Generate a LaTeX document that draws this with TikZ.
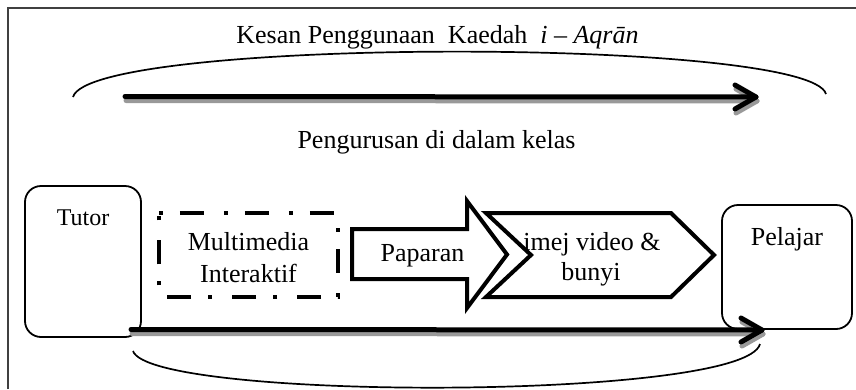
\documentclass[tikz,border=0pt]{standalone}
\usepackage{fontspec}
\setmainfont{Liberation Serif}
\newcommand\myshadowarrow[2]{%
  \draw[shadowline] ([shift={(1,4)}]#1) -- ([shift={(1,4)}]#2);
  \draw[shadowline] ([shift={(-20,-8)}]#2) -- ([shift={(1,4)}]#2) -- ([shift={(-20,16)}]#2);
  \draw[arrowline] (#1) -- (#2);
  \draw[arrowline] ([shift={(-21,-12)}]#2) -- (#2) -- ([shift={(-21,12)}]#2);
}
\begin{document}
\begin{tikzpicture}[x=1pt,y=-1pt,
  lbl/.style={font=\fontsize{26}{30}\selectfont, inner sep=0pt, anchor=base},
  rbox/.style={draw, line width=1.8pt, rounded corners=16pt, inner sep=0pt},
  ddbox/.style={line width=3.5pt, dash pattern=on 4pt off 17pt on 24pt off 20pt},
  fat/.style={draw, line width=4pt, fill=white, line join=miter, miter limit=10},
  arcline/.style={line width=1.7pt},
  arrowline/.style={line width=5pt, line cap=round, line join=round, black},
  shadowline/.style={line width=5pt, line cap=round, line join=round, black!40},
]
\useasboundingbox (0,0) rectangle (856,389);
\fill[white] (0,0) rectangle (856,389);
% frame
\draw[line width=1.5pt, black!75] (8,389) -- (8,8) -- (856,8);

% titles
\node[lbl] (title) at (437.5,43) {Kesan Penggunaan\ \ Kaedah\ \ \textit{i} – \textit{Aqrān}};
\node[lbl] (manage) at (436.5,148) {Pengurusan di dalam kelas};

% top arc and arrow
\coordinate (arcTL) at (73,97);
\coordinate (arcTR) at (826,94);
\draw[arcline] (arcTL) .. controls (90,37) and (810,37) .. (arcTR);
\coordinate (ta) at (125,96.5);
\coordinate (tb) at (756,97);
\myshadowarrow{ta}{tb}

% boxes
\node[rbox, minimum width=116pt, minimum height=151pt] (tutor) at (83,261.5) {};
\node[lbl, font=\fontsize{24}{28}\selectfont] (tutortext) at (83,225) {Tutor};
\node[rbox, minimum width=130pt, minimum height=124pt] (pelajar) at (787,267) {};
\node[lbl] (pelajartext) at (787,245) {Pelajar};

\node[minimum width=179pt, minimum height=84pt, inner sep=0pt] (mm) at (248.5,255) {};
\draw[ddbox] (mm.north west) -- (mm.north east) -- (mm.south east) -- (mm.south west) -- cycle;
\node[lbl] (mm1) at (248.5,250) {Multimedia};
\node[lbl] (mm2) at (248.5,282) {Interaktif};

% Paparan block arrow
\draw[fat] (352,229) -- (467,229) -- (467,201) -- (507,254.5) -- (467,308) -- (467,279) -- (352,279) -- cycle;
\node[lbl] (paparan) at (422.5,261) {Paparan};

% chevron
\draw[fat] (486,213) -- (671,213) -- (714,255) -- (671,297) -- (486,297) -- (531,255) -- cycle;
\node[lbl] (imej1) at (592,250) {imej video \&};
\node[lbl] (imej2) at (591,280) {bunyi};

% bottom arrow and arc
\coordinate (ba) at (131,329.5);
\coordinate (bb) at (762,330);
\myshadowarrow{ba}{bb}
\coordinate (arcBL) at (133,351);
\coordinate (arcBR) at (760,344);
\draw[arcline] (arcBL) .. controls (150,401) and (745,401) .. (arcBR);
\end{tikzpicture}
\end{document}
